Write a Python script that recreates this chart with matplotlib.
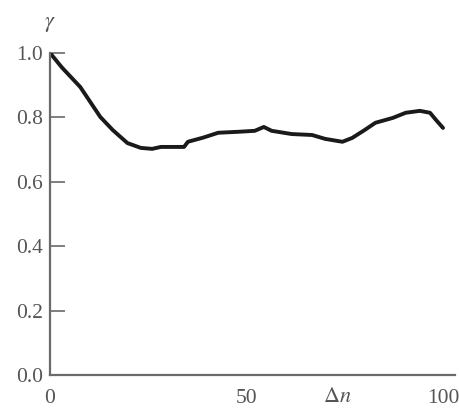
import matplotlib
matplotlib.use("Agg")
import matplotlib.pyplot as plt

plt.rcParams["font.family"] = "Liberation Serif"
plt.rcParams["mathtext.fontset"] = "stix"

# curve
dn = [0, 3, 7.7, 12.8, 16, 19.7, 23.1, 26, 28.2, 31, 34.1, 35.1, 39, 42.8, 47.9,
      52.1, 54.4, 56.4, 61.5, 66.7, 70.0, 74.4, 76.9, 80, 82.8, 87.2, 90.5,
      94.1, 96.7, 98.2, 100]
gamma = [1.0, 0.955, 0.894, 0.801, 0.76, 0.72, 0.705, 0.702, 0.708, 0.708, 0.708,
         0.724, 0.737, 0.752, 0.755, 0.758, 0.770, 0.758, 0.748, 0.745, 0.733,
         0.724, 0.736, 0.76, 0.783, 0.798, 0.814, 0.820, 0.814, 0.792, 0.767]
yticks = [0.0, 0.2, 0.4, 0.6, 0.8, 1.0]
ytick_labels = ["0.0", "0.2", "0.4", "0.6", "0.8", "1.0"]
xticks = [0, 50, 100]
xtick_labels = ["0", "50", "100"]

axis_col = "#6a6a6a"
text_col = "#555555"

fig = plt.figure(figsize=(4.6, 4.13), dpi=100)
ax = fig.add_axes([0.1087, 0.092, 0.88, 0.78])

ax.plot(dn, gamma, color="#1a1a1a", lw=2.8, solid_capstyle="round",
        solid_joinstyle="round")

ax.set_xlim(0, 103)
ax.set_ylim(0, 1.0)
ax.set_yticks(yticks)
ax.set_yticklabels(ytick_labels)
ax.set_xticks(xticks)
ax.set_xticklabels(xtick_labels)

for s in ["top", "right"]:
    ax.spines[s].set_visible(False)
for s in ["left", "bottom"]:
    ax.spines[s].set_color(axis_col)
    ax.spines[s].set_linewidth(1.6)

ax.tick_params(axis="y", direction="in", length=11, width=1.2, color=axis_col,
               labelsize=15.5, labelcolor=text_col, pad=5)
ax.tick_params(axis="x", length=0, labelsize=15.5, labelcolor=text_col, pad=10)

ax.text(73, -0.04, r"$\Delta n$", ha="center", va="top", fontsize=16, color=text_col)
ax.text(0, 1.06, r"$\gamma$", ha="center", va="bottom", fontsize=16, color=text_col,
        clip_on=False)

fig.savefig("out.png", dpi=100)
